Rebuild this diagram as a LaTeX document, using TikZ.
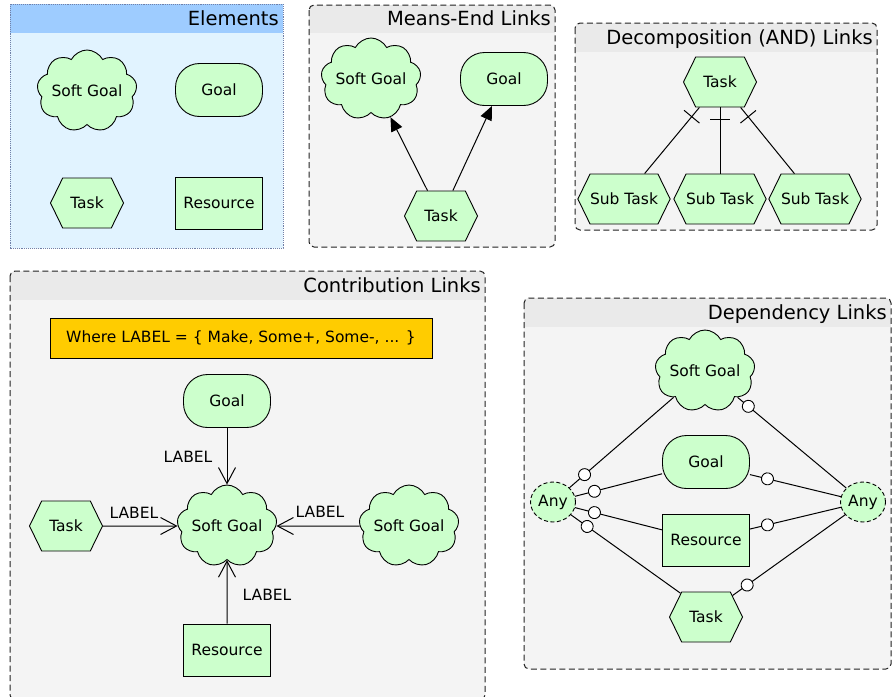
\documentclass[tikz,border=0pt]{standalone}
\usepackage{fontspec}
\setmainfont{DejaVu Sans}
\usetikzlibrary{shapes.symbols,shapes.geometric,arrows.meta,decorations.markings}
\definecolor{nodegreen}{HTML}{CCFFCC}
\definecolor{gold}{HTML}{FFCC00}
\definecolor{headgray}{HTML}{EAEAEA}
\definecolor{bodygray}{HTML}{F4F4F4}
\definecolor{elhead}{HTML}{9ECCFF}
\definecolor{elbody}{HTML}{E1F3FF}
\definecolor{elborder}{HTML}{7080A8}
\definecolor{edgegray}{HTML}{222222}
\newcommand\nodefnt{\fontsize{15.5}{18}\selectfont}
\newcommand\titlefnt{\fontsize{19.5}{23}\selectfont}
\newcommand\mypanel[7]{%
  \fill[bodygray,rounded corners=5pt] (#1,#2) rectangle (#3,#4);
  \begin{scope}
    \clip[rounded corners=5pt] (#1,#2) rectangle (#3,#4);
    \fill[headgray] (#1,#2) rectangle (#3,#5);
  \end{scope}
  \draw[paneledge,rounded corners=5pt] (#1,#2) rectangle (#3,#4);
  \node[ttl,anchor=base east] (#6) at (#3-4,#5-7.5) {#7};}
\begin{document}
\begin{tikzpicture}[x=1pt,y=-1pt,
  elem/.style={draw=black,fill=nodegreen,line width=0.9pt,font=\nodefnt,inner sep=0pt},
  sgoal/.style={elem,cloud,cloud puffs=9,cloud puff arc=125,aspect=1.35,minimum width=100pt,minimum height=82pt,
    label={[lbl]center:Soft Goal}},
  goalnode/.style={elem,rectangle,rounded corners=24pt,minimum width=87pt,minimum height=53pt},
  tasknode/.style={elem,signal,signal to=east and west,signal pointer angle=128,minimum width=73pt,minimum height=50pt},
  resnode/.style={elem,rectangle,minimum width=87pt,minimum height=52pt},
  anynode/.style={elem,ellipse,dash pattern=on 4pt off 2.5pt,minimum width=45pt,minimum height=40pt},
  ttl/.style={font=\titlefnt,inner sep=0pt,text=black},
  lbl/.style={font=\nodefnt,inner sep=0pt},
  paneledge/.style={draw=edgegray,line width=1pt,dash pattern=on 6pt off 3.5pt},
  link/.style={draw=black,line width=1pt},
  tickm/.style={postaction={decorate,decoration={markings,mark=at position 12pt with {\draw[line width=1pt] (0pt,-10pt)--(0pt,10pt);}}}},
  depc/.style={postaction={decorate,decoration={markings,mark=at position #1 with {\draw[line width=0.9pt,fill=white] (0pt,0pt) circle[radius=6pt];}}}}
]
\useasboundingbox (0,0) rectangle (893,696);
\fill[white] (0,0) rectangle (893,696);

% ---------- Elements ----------
\fill[elbody] (10,4) rectangle (283,248);
\fill[elhead] (10,4) rectangle (283,33);
\draw[elborder,line width=0.9pt,densely dotted] (10,4) rectangle (283,248);
\node[ttl,anchor=base east] (tel) at (279,25.5) {Elements};
\node[sgoal] (esg) at (87,91) {};
\node[goalnode] (egoal) at (219,90) {Goal};
\node[tasknode] (etask) at (87,203) {Task};
\node[resnode] (eres) at (219,203) {Resource};

% ---------- Means-End ----------
\mypanel{309}{5}{555}{247}{33}{tme}{Means-End Links}
\node[sgoal] (msg) at (371,79) {};
\node[goalnode] (mgoal) at (504,79) {Goal};
\node[tasknode] (mtask) at (441,216) {Task};
\draw[link,-{Triangle[length=14pt,width=12pt]}] (mtask.118) -- (msg.-63);
\draw[link,-{Triangle[length=14pt,width=12pt]}] (mtask.65) -- (mgoal.246);

% ---------- Decomposition ----------
\mypanel{575}{23}{877}{230}{52}{tdec}{Decomposition (AND) Links}
\node[tasknode] (dtask) at (720,82) {Task};
\node[tasknode] (sub1) at (624,199) {Sub Task};
\node[tasknode] (sub2) at (720,199) {Sub Task};
\node[tasknode] (sub3) at (815,199) {Sub Task};
\draw[link,tickm] (dtask.231) -- (sub1.51);
\draw[link,tickm] (dtask.south) -- (sub2.north);
\draw[link,tickm] (dtask.309) -- (sub3.129);

% ---------- Contribution ----------
\mypanel{10}{271}{485}{700}{300}{tcon}{Contribution Links}
\node[draw=black,fill=gold,line width=0.9pt,font=\nodefnt,minimum width=382pt,minimum height=40pt,inner sep=0pt] (where) at (241,338) {Where LABEL = \{ Make, Some+, Some-, ... \}};
\node[goalnode] (cgoal) at (227,401) {Goal};
\node[sgoal] (csg) at (227,526) {};
\node[tasknode] (ctask) at (66,526) {Task};
\node[sgoal] (csg2) at (409,526) {};
\node[resnode] (cres) at (227,650) {Resource};
\draw[link,-{Straight Barb[length=16pt,width=17pt]}] (cgoal.south) -- (csg.north);
\draw[link,-{Straight Barb[length=16pt,width=17pt]}] (ctask.east) -- (csg.west);
\draw[link,-{Straight Barb[length=16pt,width=17pt]}] (csg2.west) -- (csg.east);
\draw[link,-{Straight Barb[length=16pt,width=17pt]}] (cres.north) -- (csg.south);
\node[lbl] (lab1) at (188,457) {LABEL};
\node[lbl] (lab2) at (134,513) {LABEL};
\node[lbl] (lab3) at (320,512) {LABEL};
\node[lbl] (lab4) at (267,595) {LABEL};

% ---------- Dependency ----------
\mypanel{524}{298}{891}{669}{327}{tdep}{Dependency Links}
\node[sgoal] (dsg) at (705,371) {};
\node[goalnode] (dgoal) at (706,462) {Goal};
\node[resnode] (dres) at (706,540) {Resource};
\node[tasknode] (dtk) at (706,617) {Task};
\node[anynode] (anyL) at (553,502) {Any};
\node[anynode] (anyR) at (863,502) {Any};
\draw[link,depc=20pt] (anyL) -- (dsg.220);
\draw[link,depc=20pt] (anyL) -- (dgoal.195);
\draw[link,depc=20pt] (anyL) -- (dres.167);
\draw[link,depc=20pt] (anyL) -- (dtk.137);
\draw[link,depc=14pt] (dsg.-39) -- (anyR);
\draw[link,depc=18pt] (dgoal.-16) -- (anyR);
\draw[link,depc=18pt] (dres.14) -- (anyR);
\draw[link,depc=18pt] (dtk.39) -- (anyR);
\end{tikzpicture}
\end{document}
